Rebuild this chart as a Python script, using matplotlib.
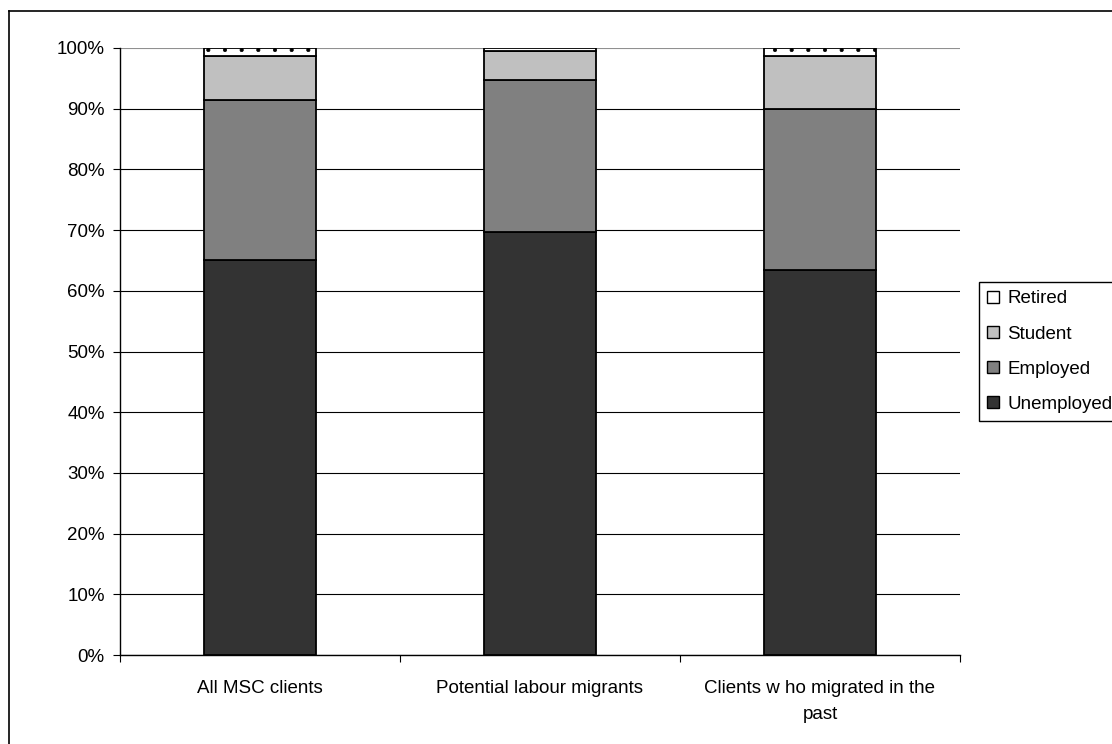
'''
Stacked status bars for MSC clients
'''

# Imports
import numpy as np
import matplotlib.pyplot as plt
from matplotlib.lines import Line2D
from matplotlib.patches import Patch

# Main Vars
categories = ['All MSC clients', 'Potential labour migrants', 'Clients w ho migrated in the\npast']
series_names = ['Unemployed', 'Employed', 'Student', 'Retired']
unemployed = [65.1, 69.7, 63.4]
employed = [26.4, 25.0, 26.6]
student = [7.2, 4.8, 8.7]
retired = [1.3, 0.5, 1.3]
y_ticks = [0, 10, 20, 30, 40, 50, 60, 70, 80, 90, 100]
y_labels = ['0%', '10%', '20%', '30%', '40%', '50%', '60%', '70%', '80%', '90%', '100%']

colors = ['#333333', '#808080', '#c0c0c0', '#ffffff']
hatches = [None, None, None, '.']
FS = 13.5

plt.rcParams['font.family'] = ['Liberation Sans', 'DejaVu Sans']
plt.rcParams['hatch.linewidth'] = 0.5

# Plot
fig = plt.figure(figsize=(11.12, 7.44), dpi=100)
ax = fig.add_axes([120 / 1112, 1 - 655 / 744, 840 / 1112, 607 / 744])

x = np.arange(len(categories))
bottom = np.zeros(len(categories))
for name, vals, col, h in zip(series_names, [unemployed, employed, student, retired], colors, hatches):
    bars = ax.bar(x, vals, width=0.4, bottom=bottom, color=col, edgecolor='black', linewidth=1.3,
                  hatch=h, zorder=3)
    # very thin segments show no pattern in the original
    for b, v in zip(bars.patches, vals):
        if v < 1:
            b.set_hatch(None)
    bottom += np.array(vals)

ax.set_xlim(-0.5, 2.5)
ax.set_ylim(0, 100)
ax.set_yticks(y_ticks)
ax.set_yticklabels(y_labels, fontsize=FS)
ax.yaxis.grid(True, color='black', linewidth=0.8, zorder=0)
ax.get_ygridlines()[-1].set_color('#909090')
ax.set_xticks([-0.5, 0.5, 1.5, 2.5])
ax.set_xticklabels([])
ax.set_xticks(x, minor=True)
ax.set_xticklabels(categories, minor=True, fontsize=FS, linespacing=1.7)
ax.tick_params(axis='x', which='minor', length=0, pad=18)
ax.tick_params(axis='x', which='major', length=5, direction='out')
ax.tick_params(axis='y', length=5, direction='out', pad=6)
for s in ['top', 'right']:
    ax.spines[s].set_visible(False)
for s in ['left', 'bottom']:
    ax.spines[s].set_linewidth(1.0)

# Legend (reversed order like the original)
handles = [Patch(facecolor=c, edgecolor='black', linewidth=1.0) for c in colors[::-1]]
leg = fig.legend(handles, series_names[::-1], loc='upper left',
                 bbox_to_anchor=(979 / 1112, 1 - 282 / 744), fontsize=FS,
                 handlelength=0.6, handleheight=0.6, handletextpad=0.45,
                 labelspacing=0.97, borderpad=0.45, borderaxespad=0,
                 fancybox=False, framealpha=1)
leg.get_frame().set_edgecolor('black')
leg.get_frame().set_linewidth(1.0)

# Outer chart frame (only left and top edges visible)
fig.add_artist(Line2D([9 / 1112, 9 / 1112], [0, 1 - 11 / 744], transform=fig.transFigure, color='black', linewidth=1.2))
fig.add_artist(Line2D([9 / 1112, 1], [1 - 11 / 744, 1 - 11 / 744], transform=fig.transFigure, color='black', linewidth=1.2))

fig.savefig('out.png', dpi=100)
